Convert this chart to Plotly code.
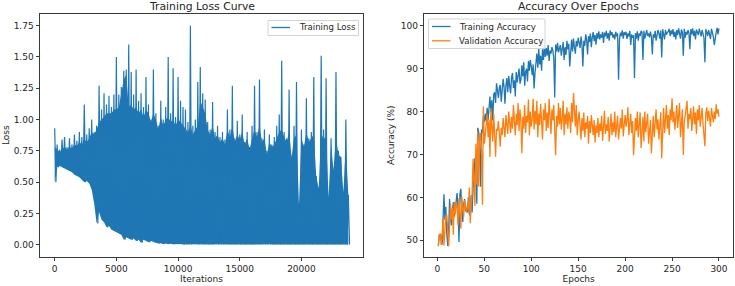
import plotly.graph_objects as go

# ---------------- data ----------------
epochs = list(range(1, 301))

train_acc = [
    48.8, 51.2, 51.5, 50.9, 49.0, 53.5, 60.7, 54.8, 57.8, 51.5,
    48.7, 52.2, 59.6, 55.0, 53.5, 56.8, 58.9, 55.5, 57.2, 59.0,
    61.0, 57.5, 49.6, 60.8, 62.0, 57.2, 54.3, 58.3, 59.6, 56.9,
    57.0, 56.5, 60.0, 56.2, 55.8, 60.5, 56.5, 62.0, 64.5, 69.2,
    67.0, 58.5, 76.2, 75.3, 72.0, 62.5, 75.8, 75.0, 79.0, 77.5,
    79.5, 77.8, 80.9, 78.0, 81.0, 83.5, 79.8, 82.6, 77.9, 84.0,
    84.5, 82.0, 86.6, 84.8, 83.2, 85.5, 86.2, 82.3, 84.6, 87.6,
    85.8, 81.8, 86.0, 87.8, 84.5, 88.3, 86.0, 84.2, 88.0, 89.0,
    85.5, 87.3, 83.5, 89.2, 86.8, 88.5, 90.0, 86.5, 87.4, 90.8,
    88.2, 91.5, 86.0, 89.3, 90.0, 87.0, 91.8, 89.5, 92.0, 90.5,
    88.5, 91.0, 85.4, 89.0, 91.6, 93.5, 90.2, 94.6, 91.0, 93.0,
    89.5, 94.5, 92.0, 95.2, 92.7, 94.8, 93.0, 95.5, 91.8, 94.2,
    93.5, 95.0, 94.2, 92.5, 83.3, 95.6, 94.0, 96.0, 93.8, 94.8,
    95.5, 93.0, 94.6, 96.2, 92.0, 95.0, 93.2, 96.5, 94.5, 95.8,
    90.5, 95.5, 96.8, 94.0, 97.0, 95.0, 93.5, 96.5, 95.2, 97.2,
    96.0, 94.8, 97.5, 95.8, 90.5, 96.5, 95.3, 98.0, 96.7, 93.3,
    97.6, 96.2, 98.2, 95.0, 97.3, 98.5, 96.4, 97.8, 95.6, 98.3,
    97.0, 98.7, 96.8, 98.0, 97.2, 98.6, 96.0, 98.4, 97.5, 98.8,
    97.0, 98.3, 96.5, 98.9, 97.8, 98.5, 97.2, 98.0, 96.8, 98.6,
    97.5, 98.2, 87.4, 96.8, 98.4, 97.6, 98.9, 97.0, 98.5, 97.8,
    98.6, 96.9, 98.2, 97.5, 98.8, 95.5, 98.0, 97.2, 97.8, 87.8,
    98.3, 97.0, 98.7, 96.5, 98.2, 97.6, 98.8, 98.5, 92.0, 98.8,
    97.0, 98.4, 99.0, 97.6, 98.2, 97.3, 98.6, 97.4, 93.3, 98.0,
    97.2, 98.8, 96.5, 97.8, 99.0, 98.2, 97.0, 98.9, 92.6, 99.2,
    98.3, 96.8, 99.0, 97.9, 98.5, 98.6, 99.3, 97.6, 98.9, 98.0,
    99.2, 97.4, 98.6, 96.8, 99.0, 97.8, 99.4, 98.2, 97.0, 99.1,
    98.5, 93.0, 99.3, 97.2, 98.6, 97.9, 99.0, 98.3, 94.5, 99.2,
    98.0, 99.4, 97.6, 98.8, 96.8, 99.1, 98.4, 97.8, 99.3, 98.1,
    97.5, 99.0, 98.3, 97.2, 91.5, 99.2, 98.5, 97.6, 99.0, 98.2,
    96.9, 99.3, 98.6, 97.4, 95.5, 97.8, 98.4, 99.5, 98.0, 99.4,
]

val_acc = [
    48.6, 51.3, 51.4, 48.9, 51.0, 55.2, 48.8, 52.5, 55.8, 56.0,
    51.0, 48.6, 53.0, 58.5, 54.8, 57.6, 51.3, 59.0, 56.0, 58.8,
    57.5, 53.6, 59.8, 56.8, 52.7, 60.2, 57.4, 55.4, 59.3, 57.0,
    56.5, 58.2, 57.2, 62.3, 54.0, 58.0, 61.0, 69.0, 65.0, 58.0,
    72.5, 63.0, 75.5, 62.5, 73.8, 75.0, 71.0, 58.3, 81.2, 72.5,
    74.5, 77.0, 79.5, 74.0, 78.0, 69.5, 80.8, 76.5, 73.0, 79.5,
    75.0, 69.5, 76.0, 75.5, 77.8, 73.5, 71.8, 76.2, 74.5, 78.5,
    75.8, 74.0, 79.2, 76.5, 74.8, 80.0, 77.2, 75.0, 78.8, 76.0,
    81.5, 77.0, 74.5, 79.5, 76.8, 82.0, 75.5, 80.5, 77.5, 70.3,
    78.8, 76.0, 81.5, 75.0, 79.0, 77.5, 82.8, 74.5, 80.0, 76.5,
    78.5, 83.0, 75.8, 80.2, 77.0, 82.5, 74.0, 79.5, 76.8, 81.8,
    77.5, 73.5, 80.5, 78.0, 82.0, 75.5, 79.8, 76.2, 83.0, 77.8,
    74.8, 80.5, 78.0, 81.5, 75.5, 69.8, 79.0, 76.5, 82.0, 77.0,
    80.8, 75.8, 78.5, 82.5, 74.5, 79.5, 77.0, 81.0, 76.0, 80.0,
    78.5, 75.0, 82.0, 77.5, 84.3, 79.0, 76.5, 81.5, 74.5, 78.0,
    80.0, 76.5, 73.5, 78.5, 75.5, 79.8, 74.0, 77.5, 76.0, 79.0,
    72.5, 77.8, 75.0, 79.2, 76.2, 74.5, 78.0, 72.8, 76.8, 75.0,
    78.5, 74.0, 77.2, 75.5, 79.0, 73.2, 76.5, 80.2, 74.8, 77.0,
    75.5, 78.8, 73.0, 76.0, 79.5, 74.5, 77.5, 75.2, 80.0, 74.0,
    77.0, 79.0, 73.5, 75.8, 78.5, 76.0, 80.5, 74.2, 77.8, 79.2,
    76.5, 78.0, 81.0, 74.5, 77.0, 79.5, 75.0, 77.8, 69.8, 73.5,
    78.5, 75.5, 80.0, 74.0, 77.5, 79.8, 71.5, 76.0, 78.8, 73.0,
    80.0, 75.2, 77.8, 79.5, 72.5, 76.8, 78.0, 70.3, 75.5, 79.0,
    74.0, 77.5, 80.5, 75.8, 78.2, 73.5, 76.5, 79.8, 69.1, 77.0,
    80.8, 75.0, 78.5, 81.5, 76.0, 79.2, 74.5, 80.5, 78.0, 83.1,
    77.5, 80.0, 75.8, 79.5, 81.5, 76.2, 78.8, 82.0, 74.0, 78.0,
    80.5, 69.9, 77.5, 79.0, 81.0, 82.5, 76.0, 79.5, 78.2, 80.8,
    75.5, 78.5, 81.2, 77.0, 79.8, 74.8, 80.5, 78.0, 81.5, 76.5,
    79.0, 80.8, 77.2, 75.0, 71.9, 79.5, 81.0, 77.8, 80.2, 78.5,
    76.5, 80.8, 79.0, 77.5, 80.0, 78.2, 81.7, 79.5, 80.5, 78.8,
]

# training loss, sampled every 200 iterations:
# local peak, top of the dense band, and local trough
loss_iters = list(range(0, 23801, 200))

loss_high = [
    0.93, 0.80, 0.76, 0.84, 0.86, 0.78, 0.85, 0.80, 0.88, 0.83,
    0.90, 0.86, 1.12, 0.88, 0.93, 1.00, 0.90, 0.95, 1.27, 1.08,
    1.21, 1.12, 1.19, 1.10, 1.20, 1.50, 1.20, 1.26, 1.39, 1.40,
    1.60, 1.38, 1.20, 1.40, 1.15, 1.21, 1.10, 1.34, 1.12, 1.00,
    1.40, 1.05, 0.95, 1.15, 1.00, 1.10, 1.50, 1.05, 1.41, 1.02,
    1.34, 1.15, 1.10, 1.08, 0.98, 1.75, 0.95, 1.00, 1.30, 1.42,
    1.21, 1.16, 0.98, 0.92, 1.14, 0.90, 0.95, 0.86, 0.90, 0.84,
    1.08, 0.92, 1.27, 0.85, 0.99, 0.88, 1.04, 0.82, 0.90, 0.78,
    0.95, 1.27, 0.90, 1.32, 0.85, 0.92, 0.75, 0.88, 0.80, 0.86,
    0.95, 1.04, 1.47, 0.90, 0.85, 1.24, 0.70, 0.95, 1.30, 0.32,
    0.92, 0.80, 1.17, 0.85, 0.90, 1.34, 0.55, 0.45, 1.51, 0.92,
    1.33, 0.38, 0.85, 0.60, 1.38, 0.75, 0.70, 0.42, 1.00, 0.40,
]

loss_body = [
    0.78, 0.76, 0.74, 0.76, 0.78, 0.76, 0.78, 0.77, 0.80, 0.79,
    0.82, 0.80, 0.84, 0.82, 0.85, 0.90, 0.88, 0.92, 0.98, 1.00,
    1.02, 1.05, 1.05, 1.05, 1.08, 1.08, 1.10, 1.20, 1.32, 1.36,
    1.10, 1.12, 1.08, 1.10, 1.05, 1.08, 1.02, 1.08, 1.05, 0.98,
    1.05, 1.00, 0.92, 1.02, 0.95, 1.00, 1.02, 0.98, 1.00, 0.95,
    1.00, 0.98, 0.95, 0.92, 0.90, 0.95, 0.88, 0.92, 0.95, 1.15,
    1.10, 1.05, 0.92, 0.88, 0.95, 0.85, 0.88, 0.82, 0.85, 0.80,
    0.92, 0.86, 0.95, 0.82, 0.88, 0.84, 0.90, 0.80, 0.85, 0.76,
    0.85, 0.92, 0.86, 0.95, 0.82, 0.85, 0.72, 0.82, 0.78, 0.80,
    0.85, 0.90, 0.92, 0.86, 0.82, 0.90, 0.70, 0.85, 0.88, 0.32,
    0.85, 0.78, 0.90, 0.82, 0.85, 0.88, 0.55, 0.45, 0.88, 0.85,
    0.85, 0.38, 0.80, 0.60, 0.85, 0.72, 0.70, 0.42, 0.80, 0.40,
]

loss_low = [
    0.50, 0.62, 0.63, 0.62, 0.61, 0.60, 0.59, 0.58, 0.56, 0.55,
    0.54, 0.52, 0.50, 0.51, 0.49, 0.44, 0.33, 0.17, 0.26, 0.20,
    0.18, 0.14, 0.15, 0.12, 0.11, 0.10, 0.09, 0.08, 0.04, 0.06,
    0.05, 0.04, 0.05, 0.03, 0.04, 0.015, 0.04, 0.03, 0.02, 0.03,
    0.02, 0.015, 0.01, 0.012, 0.005, 0.01, 0.005, 0.008, 0.004, 0.006,
    0.003, 0.005, 0.002, 0.004, 0.003, 0.002, 0.004, 0.003, 0.002, 0.003,
    0.002, 0.004, 0.002, 0.003, 0.002, 0.003, 0.002, 0.004, 0.002, 0.003,
    0.002, 0.003, 0.002, 0.002, 0.003, 0.002, 0.004, 0.002, 0.003, 0.002,
    0.002, 0.003, 0.002, 0.002, 0.003, 0.002, 0.002, 0.003, 0.002, 0.002,
    0.003, 0.002, 0.002, 0.003, 0.002, 0.002, 0.003, 0.002, 0.002, 0.003,
    0.002, 0.002, 0.003, 0.002, 0.002, 0.003, 0.002, 0.002, 0.003, 0.002,
    0.002, 0.003, 0.002, 0.002, 0.003, 0.002, 0.002, 0.003, 0.002, 0.002,
]

loss_ticks = [0, 5000, 10000, 15000, 20000]
loss_yticks = [0, 0.25, 0.5, 0.75, 1.0, 1.25, 1.5, 1.75]
acc_xticks = [0, 50, 100, 150, 200, 250, 300]
acc_yticks = [50, 60, 70, 80, 90, 100]

loss_x, loss_y = [], []
for it, hi, lo in zip(loss_iters, loss_high, loss_low):
    loss_x += [it, it + 100]
    loss_y += [hi, lo]

# ---------------- figure ----------------
W, H = 735, 286
FONT = "DejaVu Sans"
TXT = "#262626"
BLUE = "#1f77b4"
ORANGE = "#ff7f0e"
AXC = "#3a3a3a"
TICK_SIZE = 9
TITLE_SIZE = 10.8


def px_x(p):
    return p / W


def px_y(p):
    return 1 - p / H


fig = go.Figure()
# dense band of the noisy loss (between local troughs and the band top)
fig.add_trace(go.Scatter(x=loss_iters, y=loss_low, mode="lines", line=dict(width=0, color=BLUE),
                         showlegend=False, hoverinfo="skip", xaxis="x", yaxis="y"))
fig.add_trace(go.Scatter(x=loss_iters, y=loss_body, mode="lines", line=dict(width=0, color=BLUE),
                         fill="tonexty", fillcolor=BLUE, showlegend=False, hoverinfo="skip",
                         xaxis="x", yaxis="y"))
fig.add_trace(go.Scatter(x=loss_x, y=loss_y, mode="lines", name="Training Loss",
                         line=dict(color=BLUE, width=1.2), xaxis="x", yaxis="y",
                         showlegend=False))
fig.add_trace(go.Scatter(x=epochs, y=train_acc, mode="lines", name="Training Accuracy",
                         line=dict(color=BLUE, width=1.3), xaxis="x2", yaxis="y2",
                         showlegend=False))
fig.add_trace(go.Scatter(x=epochs, y=val_acc, mode="lines", name="Validation Accuracy",
                         line=dict(color=ORANGE, width=1.3), xaxis="x2", yaxis="y2",
                         showlegend=False))

axis_common = dict(showgrid=False, zeroline=False, showline=True, mirror=True,
                   linecolor=AXC, linewidth=1, ticks="outside", ticklen=3.5,
                   tickwidth=1, tickcolor=AXC,
                   tickfont=dict(family=FONT, size=TICK_SIZE, color=TXT))
title_font = dict(family=FONT, size=TICK_SIZE, color=TXT)

bottom = px_y(256.5)
top = px_y(14)

# legend boxes drawn as shapes + text (matplotlib-style compact legends)
shapes = []
annotations = []


def legend_box(x0, y0, x1, y1):
    shapes.append(dict(type="rect", xref="paper", yref="paper",
                       x0=px_x(x0), x1=px_x(x1), y0=px_y(y1), y1=px_y(y0),
                       line=dict(color="#d4d4d4", width=1), fillcolor="rgba(255,255,255,0.85)",
                       layer="above"))


def legend_entry(x, y, color, text):
    shapes.append(dict(type="line", xref="paper", yref="paper",
                       x0=px_x(x), x1=px_x(x + 18.5), y0=px_y(y), y1=px_y(y),
                       line=dict(color=color, width=1.3), layer="above"))
    annotations.append(dict(text=text, x=px_x(x + 25), y=px_y(y), xref="paper", yref="paper",
                            xanchor="left", yanchor="middle", showarrow=False,
                            font=dict(family=FONT, size=8.6, color=TXT)))


legend_box(268, 20.5, 358.5, 35.5)
legend_entry(271.5, 27.5, BLUE, "Training Loss")
legend_box(428.5, 19, 545, 48.5)
legend_entry(432, 26.5, BLUE, "Training Accuracy")
legend_entry(432, 40.8, ORANGE, "Validation Accuracy")

annotations += [
    dict(text="Training Loss Curve", x=px_x(201.5), y=1, xref="paper", yref="paper",
         xanchor="center", yanchor="top", showarrow=False, yshift=2.5,
         font=dict(family=FONT, size=TITLE_SIZE, color=TXT)),
    dict(text="Accuracy Over Epochs", x=px_x(578.7), y=1, xref="paper", yref="paper",
         xanchor="center", yanchor="top", showarrow=False, yshift=2.5,
         font=dict(family=FONT, size=TITLE_SIZE, color=TXT)),
]

fig.update_layout(
    width=W, height=H,
    margin=dict(l=0, r=0, t=0, b=0),
    paper_bgcolor="white", plot_bgcolor="white",
    font=dict(family=FONT, size=TICK_SIZE, color=TXT),
    showlegend=False,
    xaxis=dict(domain=[px_x(40), px_x(363)], range=[-1190, 24990],
               tickvals=loss_ticks, ticktext=[str(v) for v in loss_ticks],
               title=dict(text="Iterations", standoff=2, font=title_font),
               anchor="y", **axis_common),
    yaxis=dict(domain=[bottom, top], range=[-0.094, 1.8435],
               tickvals=loss_yticks, ticktext=["%.2f" % v for v in loss_yticks],
               title=dict(text="Loss", standoff=2, font=title_font),
               anchor="x", **axis_common),
    xaxis2=dict(domain=[px_x(424.3), px_x(733)], range=[-13.95, 314.95],
                tickvals=acc_xticks, ticktext=[str(v) for v in acc_xticks],
                title=dict(text="Epochs", standoff=2, font=title_font),
                anchor="y2", **axis_common),
    yaxis2=dict(domain=[bottom, top], range=[46.23, 102.73],
                tickvals=acc_yticks, ticktext=[str(v) for v in acc_yticks],
                title=dict(text="Accuracy (%)", standoff=4, font=title_font),
                anchor="x2", **axis_common),
    shapes=shapes,
    annotations=annotations,
)

fig.write_html("out.html")
